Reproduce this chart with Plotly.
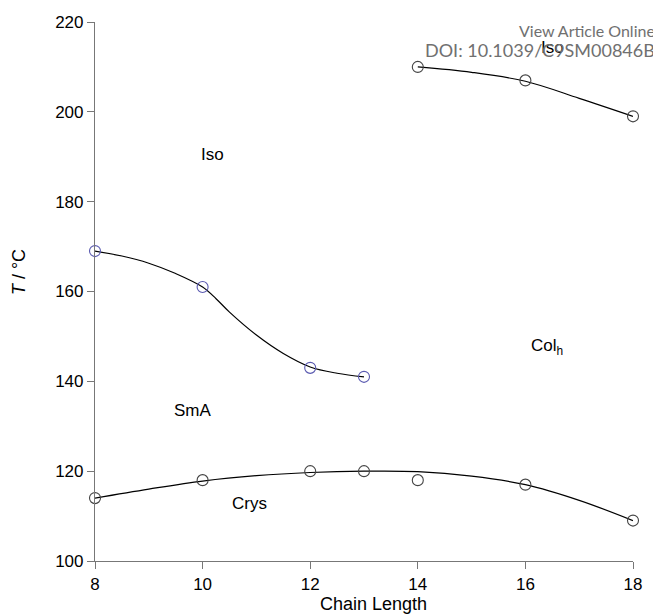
import plotly.graph_objects as go

# Measured data points
iso_x = [14, 16, 18]
iso_y = [210, 207, 199]
sma_x = [8, 10, 12, 13]
sma_y = [169, 161, 143, 141]
crys_x = [8, 10, 12, 13, 14, 16, 18]
crys_y = [114, 118, 120, 120, 118, 117, 109]

# Guide curves
iso_curve_x = [14, 15, 16, 17, 18]
iso_curve_y = [210, 208.8, 206.8, 203.0, 199]
sma_curve_x = [8, 8.5, 9, 9.5, 10, 10.25, 10.5, 11, 11.5, 12, 12.5, 13]
sma_curve_y = [169, 167.9, 166.3, 164.0, 161, 158.4, 155.4, 150.3, 146.2, 143.2, 141.8, 141]
crys_curve_x = [8, 9, 10, 11, 12, 13, 14, 15, 16, 17, 18]
crys_curve_y = [114, 116.0, 117.8, 119.0, 119.7, 120.0, 119.9, 118.9, 117.0, 113.5, 109]

x_ticks = [8, 10, 12, 14, 16, 18]
y_ticks = [100, 120, 140, 160, 180, 200, 220]

labels = [("Iso", 10.18, 190.4), ("Iso", 16.5, 214.3), ("SmA", 9.82, 133.6),
          ("Crys", 10.87, 112.7), ("Col<sub>h</sub>", 16.4, 147.6)]

FONT = "Liberation Sans, Arial, Helvetica"

fig = go.Figure()
for cx, cy in [(iso_curve_x, iso_curve_y), (sma_curve_x, sma_curve_y), (crys_curve_x, crys_curve_y)]:
    fig.add_trace(go.Scatter(x=cx, y=cy, mode="lines", line=dict(color="black", width=1.2, shape="spline"),
                             hoverinfo="skip", showlegend=False, cliponaxis=False))

marker_black = dict(symbol="circle-open", size=11, color="#444444", line=dict(width=1.1))
marker_blue = dict(symbol="circle-open", size=11, color="#5a5ab0", line=dict(width=1.1))
fig.add_trace(go.Scatter(x=iso_x, y=iso_y, mode="markers", marker=marker_black, showlegend=False, cliponaxis=False))
fig.add_trace(go.Scatter(x=sma_x, y=sma_y, mode="markers", marker=marker_blue, showlegend=False, cliponaxis=False))
fig.add_trace(go.Scatter(x=crys_x, y=crys_y, mode="markers", marker=marker_black, showlegend=False, cliponaxis=False))

for text, x, y in labels:
    fig.add_annotation(x=x, y=y, text=text, showarrow=False, xref="x", yref="y",
                       font=dict(family=FONT, size=17, color="black"))

# axis titles
fig.add_annotation(x=-0.1413, y=0.536, xref="paper", yref="paper", text="<i>T</i> / °C", textangle=-90,
                   xanchor="center", yanchor="middle",
                   showarrow=False, font=dict(family=FONT, size=18, color="black"))
fig.add_annotation(x=0.518, y=-0.0795, xref="paper", yref="paper", text="Chain Length",
                   xanchor="center", yanchor="middle",
                   showarrow=False, font=dict(family=FONT, size=18, color="black"))

# watermark
fig.add_annotation(x=1.0446, y=0.985, xref="paper", yref="paper", xanchor="right", yanchor="middle",
                   text="View Article Online", showarrow=False,
                   font=dict(family="Lato, Open Sans", size=16, color="#707070"))
fig.add_annotation(x=1.0446, y=0.948, xref="paper", yref="paper", xanchor="right", yanchor="middle",
                   text="DOI: 10.1039/C9SM00846B", showarrow=False,
                   font=dict(family="Lato, Open Sans", size=18, color="#707070"))

axis_common = dict(showgrid=False, zeroline=False, showline=True, linecolor="#777777", linewidth=1.2,
                   ticks="outside", ticklen=7, tickcolor="#777777", tickwidth=1, automargin=False,
                   tickfont=dict(family=FONT, size=17, color="black"))
fig.update_xaxes(range=[8, 18], tickvals=x_ticks, **axis_common)
fig.update_yaxes(range=[100, 220], tickvals=y_ticks, **axis_common)
fig.update_layout(width=661, height=615, margin=dict(l=87, r=36, t=14, b=62, autoexpand=False),
                  plot_bgcolor="white", paper_bgcolor="white")
fig.write_html("out.html")
